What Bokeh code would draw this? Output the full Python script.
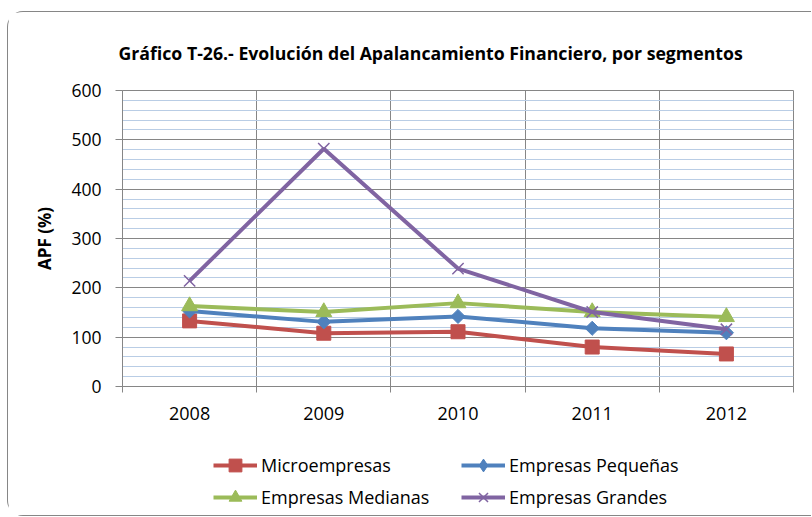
from bokeh.plotting import figure
from bokeh.models import Range1d, FixedTicker, SingleIntervalTicker, Title, Legend, LegendItem
from bokeh.layouts import column
from bokeh.embed import file_html
from bokeh.resources import INLINE
import math

# ---- data ----
years = [2008, 2009, 2010, 2011, 2012]
micro = [133, 108, 111, 80, 66]
pequenas = [153, 131, 142, 118, 109]
medianas = [163, 151, 169, 151, 141]
grandes = [214, 482, 239, 151, 116]
series_names = ["Microempresas", "Empresas Pequeñas", "Empresas Medianas", "Empresas Grandes"]
y_ticks = [0, 100, 200, 300, 400, 500, 600]

FONT = "Open Sans"
GREY = "#868686"
colors = ["#C0504D", "#4F81BD", "#9BBB59", "#8064A2"]
datas = [micro, pequenas, medianas, grandes]

p = figure(width=803, height=426, output_backend="svg", toolbar_location=None,
           x_range=Range1d(years[0] - 0.5, years[-1] + 0.5),
           y_range=Range1d(y_ticks[0], y_ticks[-1]),
           min_border_left=114, min_border_right=18, min_border_top=77, min_border_bottom=52)

p.title = Title(text="Gráfico T-26.- Evolución del Apalancamiento Financiero, por segmentos",
                text_font=FONT, text_font_size="17.7px", text_font_style="bold",
                text_color="#000000", align="left", offset=-4, standoff=52)

p.outline_line_color = GREY
p.background_fill_color = "white"
p.border_fill_color = "white"

# x axis
bounds = [y - 0.5 for y in years] + [years[-1] + 0.5]
p.xaxis.ticker = FixedTicker(ticks=years, minor_ticks=bounds)
p.xaxis.axis_line_color = GREY
p.xaxis.major_tick_line_color = None
p.xaxis.major_tick_out = 0
p.xaxis.major_tick_in = 0
p.xaxis.minor_tick_line_color = GREY
p.xaxis.minor_tick_out = 6
p.xaxis.minor_tick_in = 0
p.xaxis.major_label_text_font = FONT
p.xaxis.major_label_text_font_size = "18px"
p.xaxis.major_label_text_color = "#000000"
p.xaxis.major_label_standoff = 14

# y axis
p.yaxis.ticker = SingleIntervalTicker(interval=100, num_minor_ticks=5)
p.yaxis.axis_line_color = GREY
p.yaxis.major_tick_line_color = GREY
p.yaxis.major_tick_out = 7
p.yaxis.major_tick_in = 0
p.yaxis.minor_tick_line_color = None
p.yaxis.major_label_text_font = FONT
p.yaxis.major_label_text_font_size = "17.5px"
p.yaxis.major_label_text_color = "#000000"
p.yaxis.major_label_standoff = 14
p.yaxis.axis_label = "APF (%)"
p.yaxis.axis_label_text_font = FONT
p.yaxis.axis_label_text_font_size = "17px"
p.yaxis.axis_label_text_font_style = "bold"
p.yaxis.axis_label_text_color = "#000000"
p.yaxis.axis_label_standoff = 12

# grids
p.xgrid.ticker = FixedTicker(ticks=bounds)
p.xgrid.grid_line_color = GREY
p.ygrid.grid_line_color = GREY
p.ygrid.minor_grid_line_color = "#B9CDE5"


def add_series(fig, name, col, xs, ys, legend_strip=False):
    r1 = fig.line(xs, ys, line_color=col, line_width=4)
    if name == "Microempresas":
        r2 = fig.scatter(xs, ys, marker="square", size=14, fill_color=col, line_color=col)
    elif name == "Empresas Pequeñas":
        if legend_strip:
            r2 = fig.scatter(xs, ys, marker="diamond", size=14, fill_color=col, line_color=col)
        else:
            r2 = fig.scatter(xs, ys, marker="square", size=10, angle=math.pi / 4, fill_color=col, line_color=col)
    elif name == "Empresas Medianas":
        r2 = fig.scatter(xs, ys, marker="triangle", size=16, fill_color=col, line_color=col)
    else:
        r2 = fig.scatter(xs, ys, marker="x", size=16, line_color=col, line_width=1.5)
    return r1, r2


for name, col, vals in zip(series_names, colors, datas):
    add_series(p, name, col, years, vals)

# legend strip below the chart (its ranges keep the series out of view;
# only the legend symbols show)
lf = figure(width=803, height=77, output_backend="svg", toolbar_location=None,
            x_range=Range1d(0, 1), y_range=Range1d(0, 1),
            x_axis_type=None, y_axis_type=None, min_border=0)
lf.outline_line_color = None
lf.background_fill_color = "white"
lf.border_fill_color = "white"
lf.grid.visible = False
items = []
for name, col, vals in zip(series_names, colors, datas):
    r1, r2 = add_series(lf, name, col, years, vals, legend_strip=True)
    items.append(LegendItem(label=name, renderers=[r1, r2]))

lg = Legend(items=items)
lg.orientation = "horizontal"
lg.ncols = 2
lg.location = (91, 2)
lg.padding = 0
lg.margin = 0
lg.spacing = 0
lg.glyph_width = 44
lg.glyph_height = 32
lg.label_height = 24
lg.label_width = 200
lg.label_standoff = 4
lg.label_text_font = FONT
lg.label_text_font_size = "18px"
lg.label_text_color = "#000000"
lg.border_line_color = None
lg.background_fill_alpha = 0
lf.add_layout(lg, "center")

layout = column(p, lf, spacing=0)
layout.margin = (11, 0, 0, 7)
layout.styles = {"border-left": "1px solid " + GREY, "border-top": "1px solid " + GREY,
                 "border-bottom": "1px solid " + GREY, "border-radius": "16px 0 0 16px"}

open("out.html", "w").write(file_html(layout, INLINE))
